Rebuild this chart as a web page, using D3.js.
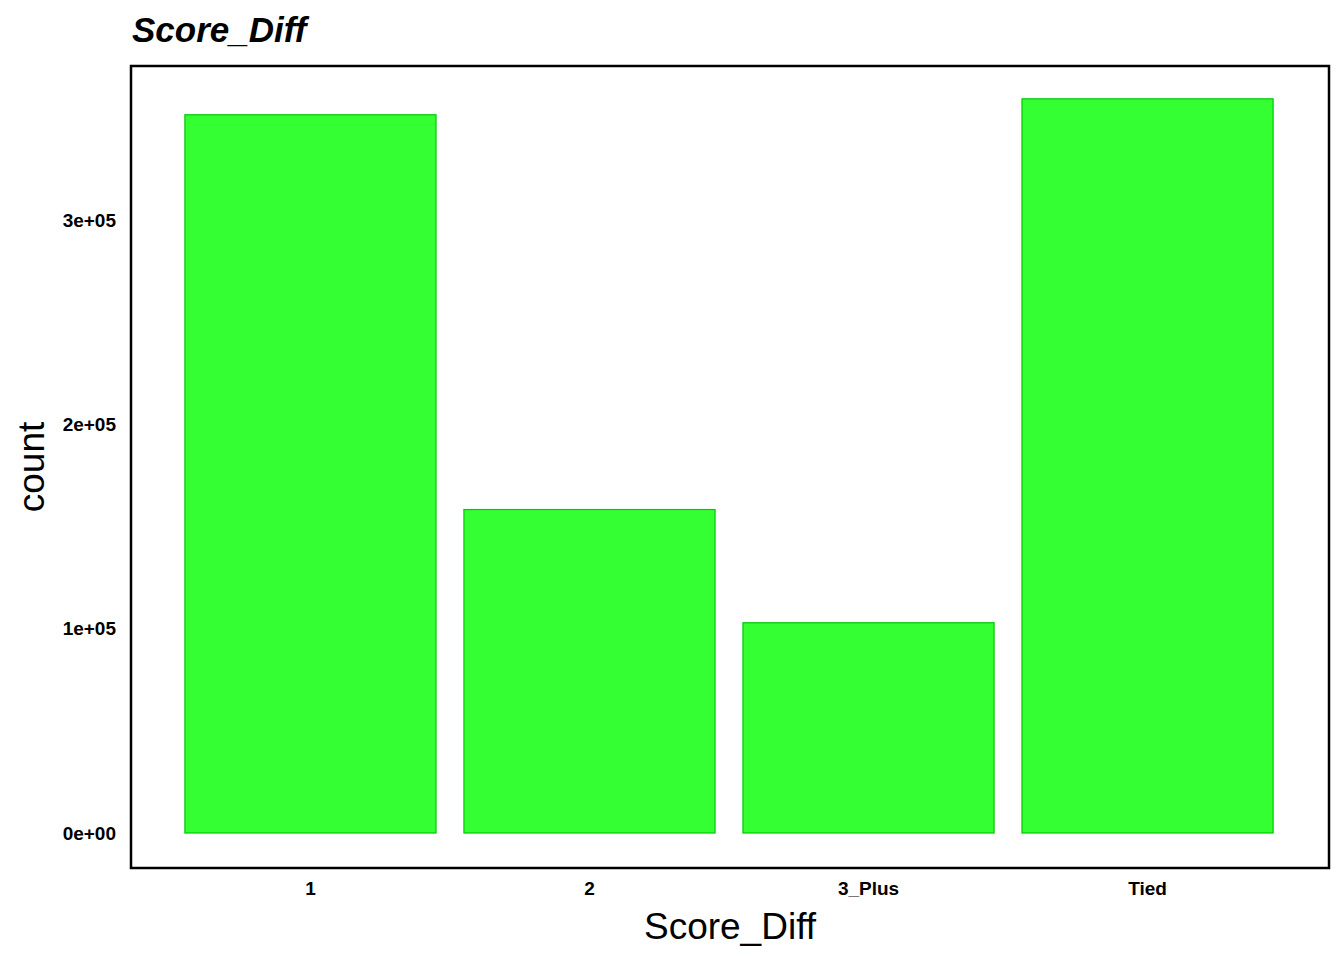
<!DOCTYPE html>
<html><head><meta charset="utf-8">
<script src="https://cdn.jsdelivr.net/npm/d3@7"></script>
<style>body{margin:0;background:#fff}</style></head>
<body><svg id="c" width="1344" height="960"></svg>
<script>
const categories = ["1","2","3_Plus","Tied"];
const counts = [351500, 158300, 102900, 359300];
const yTicks = [0,100000,200000,300000];
const yTickLabels = ["0e+00","1e+05","2e+05","3e+05"];

const svg = d3.select("#c");
const font = "Liberation Sans, Arial, sans-serif";
const x = d3.scaleBand().domain(categories).range([157,1301]).padding(0.1);
const y = d3.scaleLinear().domain([0,300000]).range([833,220]);

svg.append("rect").attr("x",131).attr("y",66).attr("width",1198).attr("height",802)
  .attr("fill","none").attr("stroke","#000").attr("stroke-width",2.5);

svg.selectAll(".bar").data(categories).join("rect")
  .attr("x",d=>x(d)).attr("width",x.bandwidth())
  .attr("y",(d,i)=>y(counts[i])).attr("height",(d,i)=>y(0)-y(counts[i]))
  .attr("fill","#33FF33").attr("stroke","#00C800").attr("stroke-width",1.2);

const ya = svg.append("g").attr("transform","translate(131,0)")
  .call(d3.axisLeft(y).tickValues(yTicks).tickFormat((d,i)=>yTickLabels[i]).tickSize(0).tickPadding(15));
ya.select(".domain").remove();
ya.selectAll("text").attr("font-family",font).attr("font-weight","bold").attr("font-size",19).attr("fill","#000");

const xa = svg.append("g").attr("transform","translate(0,868)")
  .call(d3.axisBottom(x).tickSize(0).tickPadding(14));
xa.select(".domain").remove();
xa.selectAll("text").attr("font-family",font).attr("font-weight","bold").attr("font-size",19).attr("fill","#000");

svg.append("text").attr("x",132).attr("y",42).text("Score_Diff")
  .attr("font-family",font).attr("font-weight","bold").attr("font-style","italic").attr("font-size",35);
svg.append("text").attr("x",730).attr("y",939).attr("text-anchor","middle").text("Score_Diff")
  .attr("font-family",font).attr("font-size",37);
svg.append("text").attr("transform","translate(44,467) rotate(-90)").attr("text-anchor","middle").text("count")
  .attr("font-family",font).attr("font-size",37);
</script></body></html>
